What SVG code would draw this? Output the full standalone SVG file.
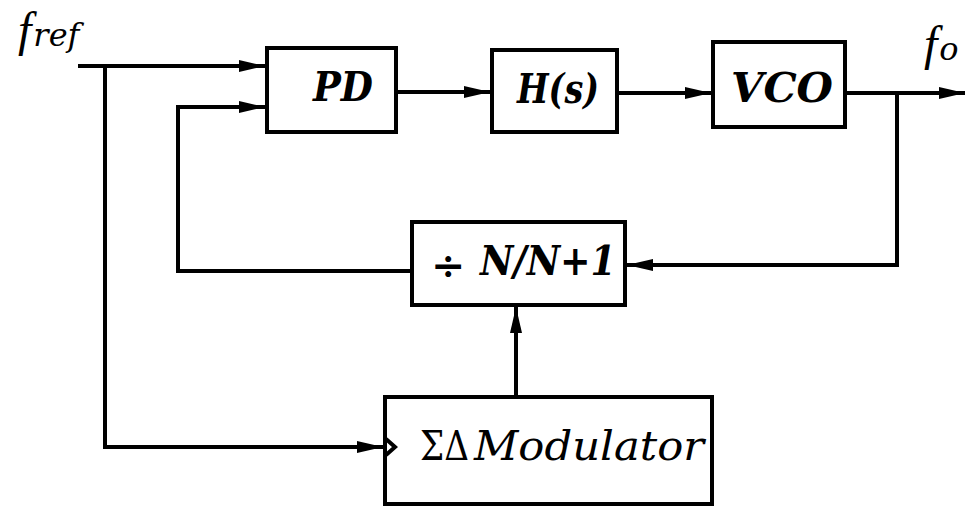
<svg xmlns="http://www.w3.org/2000/svg" width="973" height="506" viewBox="0 0 973 506">
<style>
.box{fill:#fff;stroke:#000;stroke-width:4}
.ln{fill:none;stroke:#000;stroke-width:4;stroke-linejoin:miter}
.lbl{font-family:"DejaVu Serif","Liberation Serif",serif;font-style:italic;font-weight:bold;font-size:41px;fill:#000}
.lbl2{font-family:"DejaVu Serif","Liberation Serif",serif;font-style:italic;font-size:41px;fill:#000}
.ff{font-family:"Liberation Serif","Times New Roman",serif;font-style:italic;font-size:48px}
.up{font-style:normal}
</style>
<defs>
<marker id="ah" markerUnits="userSpaceOnUse" markerWidth="28" markerHeight="16" refX="26" refY="8" orient="auto">
<path d="M0,2 L26,8 L0,14 Z" fill="#000"/>
</marker>
</defs>
<g id="connectors">
<path class="ln" d="M78,66 H265" marker-end="url(#ah)"/>
<path class="ln" d="M105,66 V447 H383" marker-end="url(#ah)"/>
<path class="ln" d="M412,271 H178 V107 H265" marker-end="url(#ah)"/>
<path class="ln" d="M396,92 H490" stroke-width="5" marker-end="url(#ah)"/>
<path class="ln" d="M617,93 H711" marker-end="url(#ah)"/>
<path class="ln" d="M845,93 H965" marker-end="url(#ah)"/>
<path class="ln" d="M897,93 V265 H627" marker-end="url(#ah)"/>
<path class="ln" d="M516,397 V307" marker-end="url(#ah)"/>
</g>
<g id="fref">
<text class="lbl2" x="18" y="46"><tspan class="ff">f</tspan><tspan font-size="32" dx="2">ref</tspan></text>
</g>
<g id="fo">
<text class="lbl2" x="924" y="60"><tspan class="ff">f</tspan><tspan font-size="32" dx="2">o</tspan></text>
</g>
<g id="pd">
<rect class="box" x="267" y="48" width="129" height="84"/>
<text class="lbl" x="313" y="101" textLength="60" lengthAdjust="spacingAndGlyphs">PD</text>
</g>
<g id="hs">
<rect class="box" x="492" y="50" width="125" height="82"/>
<text class="lbl" x="517" y="103" textLength="82" lengthAdjust="spacingAndGlyphs">H(s)</text>
</g>
<g id="vco">
<rect class="box" x="713" y="42" width="132" height="85"/>
<text class="lbl" x="731" y="102" textLength="102" lengthAdjust="spacingAndGlyphs">VCO</text>
</g>
<g id="divider">
<rect class="box" x="412" y="222" width="213" height="83"/>
<text class="lbl" x="431" y="279" font-size="54"><tspan class="up">÷</tspan></text>
<text class="lbl" x="480" y="275" textLength="136" lengthAdjust="spacingAndGlyphs">N/N+1</text>
</g>
<g id="sdm">
<rect class="box" x="385" y="397" width="327" height="107"/>
<path class="ln" d="M386,439 L395,447 L386,455" stroke-width="3"/>
<text class="lbl2" x="420" y="460" textLength="49" lengthAdjust="spacingAndGlyphs"><tspan class="up">ΣΔ</tspan></text>
<text class="lbl2" x="474" y="460" textLength="230" lengthAdjust="spacingAndGlyphs">Modulator</text>
</g>
</svg>
